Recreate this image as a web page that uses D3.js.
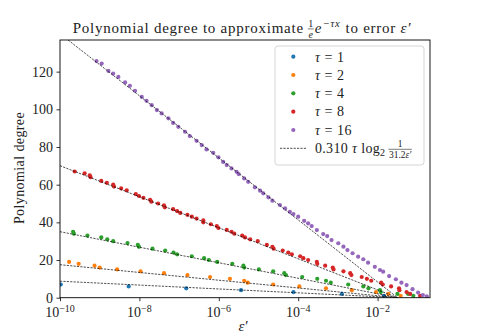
<!DOCTYPE html>
<html>
<head>
<meta charset="utf-8">
<script src="https://d3js.org/d3.v7.min.js"></script>
<style>
  body{ margin:0; background:white; }
  text{ font-family: "Liberation Serif", serif; fill:#222; }
</style>
</head>
<body>
<script>
    var svgWidth = 478;
    var svgHeight = 335;

    // values: [log10 eps', degree]
    var taus = [1, 2, 4, 8, 16];
    var colors = ["#1f77b4", "#ff7f0e", "#2ca02c", "#d62728", "#9467bd"];

    var tau1Pts = [[-9.98,7],[-8.27,6],[-6.82,5],[-5.44,4],[-4.12,3],[-2.90,2],[-1.84,1]];
    var tau2Pts = [[-9.77,19],[-9.53,18],[-9.13,17],[-9.00,16],[-8.56,15],[-7.97,14],[-7.38,13],[-6.79,12],
        [-6.22,11],[-5.72,10],[-5.36,9],[-5.27,8],[-4.63,7],[-3.97,6],[-3.30,5],[-2.65,4],[-2.04,3],[-1.73,2],[-1.42,1]];
    var tau4Pts = [[-9.67,35],[-9.65,34],[-9.31,33],[-8.96,32],[-8.81,31],[-8.66,30],[-8.30,29],[-8.04,28],
        [-8.01,27],[-7.67,26],[-7.35,25],[-7.14,24],[-7.05,23],[-6.68,22],[-6.37,21],[-6.25,20],[-6.04,19],
        [-5.66,18],[-5.38,17],[-5.36,16],[-4.99,15],[-4.63,14],[-4.35,13],[-4.31,12],[-3.90,11],[-3.52,10],
        [-3.30,9],[-3.18,8],[-2.74,7],[-2.36,6],[-2.23,5],[-1.94,4],[-1.92,3],[-1.50,2],[-1.23,2],[-1.10,1]];
    var tau8Pts = [[-9.63,67],[-9.38,66],[-9.25,65],[-9.23,64],[-8.96,62],[-8.82,61],[-8.66,60],[-8.64,59],
        [-8.46,58],[-8.32,57],[-8.09,55],[-8.01,54],[-7.90,53],[-7.73,52],[-7.70,51],[-7.53,50],[-7.38,49],
        [-7.36,48],[-7.15,47],[-7.05,46],[-6.97,45],[-6.79,44],[-6.68,43],[-6.56,42],[-6.39,41],[-6.39,40],
        [-6.20,39],[-6.05,38],[-6.01,37],[-5.80,36],[-5.68,35],[-5.61,34],[-5.41,33],[-5.34,32],[-5.21,31],
        [-5.02,30],[-4.79,28],[-4.65,27],[-4.62,26],[-4.39,25],[-4.25,24],[-4.16,23],[-3.95,22],[-3.87,21],
        [-3.75,20],[-3.53,19],[-3.52,18],[-3.32,17],[-3.13,16],[-3.11,15],[-2.86,14],[-2.69,13],[-2.66,12],
        [-2.40,11],[-2.27,10],[-2.16,9],[-1.91,8],[-1.87,7],[-1.66,6],[-1.46,5],[-1.45,4],[-1.27,3],[-1.18,2],[-0.93,1]];
    var tau16Pts = [[-9.08,125.6],[-8.95,124.3],[-8.78,120.4],[-8.66,119.0],[-8.53,117.2],[-8.36,114.3],
        [-8.24,112.5],[-8.11,109.8],[-7.94,106.6],[-7.82,104.5],[-7.69,102.2],[-7.56,99.6],[-7.44,97.8],
        [-7.27,95.2],[-7.15,92.8],[-7.02,90.7],[-6.85,88.1],[-6.73,85.8],[-6.56,83.3],[-6.43,81.0],[-6.31,78.7],
        [-6.14,76.9],[-6.01,74.5],[-5.89,72.1],[-5.80,70.4],[-5.68,68.6],[-5.55,66.8],[-5.50,65.6],[-5.36,63.3],
        [-5.26,61.5],[-5.09,58.6],[-4.96,56.8],[-4.88,55.4],[-4.75,53.3],[-4.65,51.5],[-4.46,49.2],[-4.33,47.4],
        [-4.21,45.6],[-4.12,44.4],[-4.00,43.0],[-3.85,40.8],[-3.75,39.5],[-3.66,38.0],[-3.53,35.9],[-3.37,33.8],
        [-3.27,32.7],[-3.16,30.6],[-2.99,28.9],[-2.86,27.1],[-2.76,25.3],[-2.63,23.6],[-2.49,21.8],[-2.36,20.4],
        [-2.24,18.6],[-2.07,16.4],[-1.94,14.7],[-1.86,13.8],[-1.71,11.5],[-1.54,9.8],[-1.40,8.0],[-1.27,6.7],
        [-1.12,4.5],[-0.98,2.7],[-0.86,1.4],[-0.76,0.7]];
    var seriesPts = [tau1Pts, tau2Pts, tau4Pts, tau8Pts, tau16Pts];

    // fit line: 0.310 tau log2(1/(31.2 eps))
    var fitCoef = 0.310;
    var fitConst = 31.2;
    var lineEps = [1e-10, 1 / fitConst];

    var xTicks = [1e-10, 1e-8, 1e-6, 1e-4, 1e-2];
    var xTickExps = ["\u221210", "\u22128", "\u22126", "\u22124", "\u22122"];
    var yTicks = [0, 20, 40, 60, 80, 100, 120];

    var plotLeft = 60, plotRight = 430, plotTop = 40, plotBottom = 297.7;

    var svg = d3.select("body")
        .append("svg")
        .attr("width", svgWidth)
        .attr("height", svgHeight);

    var x = d3.scaleLog().domain([1e-10, Math.pow(10, -0.68)]).range([plotLeft, plotRight]);
    var y = d3.scaleLinear().domain([0, 136.8]).range([plotBottom, plotTop]);

    svg.append("clipPath").attr("id", "clip")
        .append("rect")
        .attr("x", plotLeft).attr("y", plotTop)
        .attr("width", plotRight - plotLeft).attr("height", plotBottom - plotTop);

    var plotArea = svg.append("g").attr("clip-path", "url(#clip)");

    // points
    seriesPts.forEach(function(pts, i) {
        plotArea.append("g")
            .selectAll("circle")
            .data(pts)
            .enter().append("circle")
            .attr("cx", function(d) { return x(Math.pow(10, d[0])); })
            .attr("cy", function(d) { return y(d[1]); })
            .attr("r", 2.1)
            .attr("fill", colors[i]);
    });

    // fit lines
    var fitLine = d3.line()
        .x(function(d) { return x(d[0]); })
        .y(function(d) { return y(d[1]); });

    taus.forEach(function(t) {
        var pts = lineEps.map(function(e) { return [e, fitCoef * t * Math.log2(1 / (fitConst * e))]; });
        plotArea.append("path")
            .attr("d", fitLine(pts))
            .attr("fill", "none")
            .attr("stroke", "black")
            .attr("stroke-width", 0.7)
            .attr("stroke-dasharray", "2.2,1.2");
    });

    // axes
    var xAxis = svg.append("g")
        .attr("transform", "translate(0," + plotBottom + ")")
        .call(d3.axisBottom(x).tickValues(xTicks).tickFormat("").tickSize(3.5).tickSizeOuter(0));
    xAxis.select(".domain").remove();
    xAxis.selectAll("line").attr("stroke", "black").attr("stroke-width", 0.8);

    xTicks.forEach(function(v, i) {
        var t = svg.append("text")
            .attr("x", x(v))
            .attr("y", 317)
            .attr("text-anchor", "middle")
            .style("font-size", "14px");
        t.append("tspan").text("10");
        t.append("tspan").attr("dy", -5.5).style("font-size", "10px").text(xTickExps[i]);
    });

    var yAxis = svg.append("g")
        .attr("transform", "translate(" + plotLeft + ",0)")
        .call(d3.axisLeft(y).tickValues(yTicks).tickSize(3.5).tickSizeOuter(0).tickPadding(3.5));
    yAxis.select(".domain").remove();
    yAxis.selectAll("line").attr("stroke", "black").attr("stroke-width", 0.8);
    yAxis.selectAll("text")
        .style("font-family", "Liberation Serif, serif")
        .style("font-size", "14px")
        .attr("fill", "#222");

    svg.append("rect")
        .attr("x", plotLeft).attr("y", plotTop)
        .attr("width", plotRight - plotLeft).attr("height", plotBottom - plotTop)
        .attr("fill", "none")
        .attr("stroke", "black")
        .attr("stroke-width", 0.9);

    // axis labels
    svg.append("text")
        .attr("transform", "translate(24,168) rotate(-90)")
        .attr("text-anchor", "middle")
        .style("font-size", "14px")
        .style("letter-spacing", "0.4px")
        .text("Polynomial degree");

    svg.append("text")
        .attr("x", 243)
        .attr("y", 331)
        .attr("text-anchor", "middle")
        .style("font-size", "15px")
        .style("font-style", "italic")
        .text("\u03b5\u2032");

    // helper: put pieces of text one after another
    function writer(g, size, spacing) {
        var pos = 0;
        return {
            add: function(txt, opt) {
                opt = opt || {};
                var t = g.append("text")
                    .attr("x", pos + (opt.dx || 0))
                    .attr("y", opt.y || 0)
                    .style("font-size", (opt.size || size) + "px")
                    .style("letter-spacing", (spacing || 0) + "px")
                    .style("font-style", opt.it ? "italic" : "normal")
                    .text(txt);
                pos += (opt.dx || 0) + t.node().getComputedTextLength();
                return t;
            },
            frac: function(num, den, fs, opt) {
                opt = opt || {};
                var x0 = pos + (opt.dx || 0);
                var a = g.append("text").attr("y", -6).style("font-size", fs + "px").text(num);
                var b = g.append("g");
                var bw = 0;
                den.forEach(function(p) {
                    var t = b.append("text").attr("x", bw).attr("y", 5)
                        .style("font-size", fs + "px")
                        .style("font-style", p.it ? "italic" : "normal").text(p.t);
                    bw += t.node().getComputedTextLength();
                });
                var aw = a.node().getComputedTextLength();
                var w = Math.max(aw, bw) + 1;
                a.attr("x", x0 + (w - aw) / 2);
                b.attr("transform", "translate(" + (x0 + (w - bw) / 2) + ",0)");
                g.append("line")
                    .attr("x1", x0).attr("x2", x0 + w)
                    .attr("y1", -3.8).attr("y2", -3.8)
                    .attr("stroke", "#222").attr("stroke-width", 0.6);
                pos = x0 + w;
            },
            width: function() { return pos; }
        };
    }

    // title
    var titleG = svg.append("g");
    var tw = writer(titleG, 15, 0.75);
    tw.add("Polynomial degree to approximate");
    tw.frac("1", [{t: "e", it: true}], 10, {dx: 4});
    tw.add("e", {it: true, dx: 1});
    tw.add("\u2212\u03c4x", {it: true, size: 10.5, y: -6, dx: 0.5});
    tw.add("to error", {dx: 5});
    tw.add("\u03b5\u2032", {it: true, dx: 4.5});
    titleG.attr("transform", "translate(" + (242 - tw.width() / 2) + ",32.7)");

    // legend
    var lg = svg.append("g");
    lg.append("rect")
        .attr("x", 275).attr("y", 46)
        .attr("width", 149).attr("height", 119)
        .attr("rx", 3)
        .attr("fill", "white").attr("fill-opacity", 0.8)
        .attr("stroke", "#d0d0d0").attr("stroke-width", 0.9);

    var rowY = d3.scaleLinear().domain([0, 5]).range([56.7, 148.3]);
    taus.forEach(function(t, i) {
        lg.append("circle")
            .attr("cx", 293.3).attr("cy", rowY(i))
            .attr("r", 2.1).attr("fill", colors[i]);
        var txt = lg.append("text")
            .attr("x", 315).attr("y", rowY(i) + 4.8)
            .style("font-size", "14px")
            .style("letter-spacing", "0.5px");
        txt.append("tspan").style("font-style", "italic").text("\u03c4");
        txt.append("tspan").text(" = " + t);
    });

    lg.append("line")
        .attr("x1", 280).attr("x2", 306.7)
        .attr("y1", rowY(5)).attr("y2", rowY(5))
        .attr("stroke", "black").attr("stroke-width", 0.7)
        .attr("stroke-dasharray", "2.2,1.2");

    var lastG = lg.append("g").attr("transform", "translate(315," + (rowY(5) + 4.8) + ")");
    var lw = writer(lastG, 14, 0.3);
    lw.add(fitCoef.toFixed(3));
    lw.add("\u03c4", {it: true, dx: 4});
    lw.add("log", {dx: 4});
    lw.add("2", {size: 10, y: 3});
    lw.frac("1", [{t: "31.2"}, {t: "\u03b5\u2032", it: true}], 9.5, {dx: 3});
</script>
</body>
</html>
